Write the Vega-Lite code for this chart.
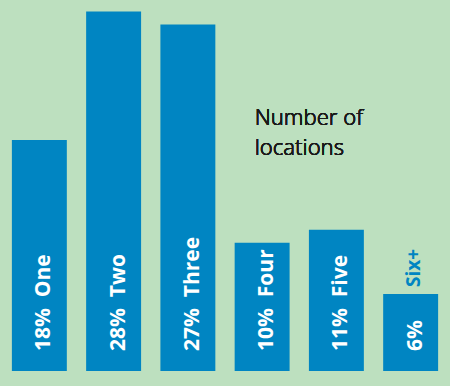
{
  "$schema": "https://vega.github.io/schema/vega-lite/v6.json",
  "width": 450,
  "height": 371,
  "padding": {"left": 0, "top": 0, "right": 0, "bottom": 15},
  "background": "#bde0bf",
  "config": {"view": {"stroke": null}},
  "data": {
    "values": [
      {"count": "One", "pct": 18, "inner": "18%\u00a0\u00a0One", "outer": ""},
      {"count": "Two", "pct": 28, "inner": "28%\u00a0\u00a0Two", "outer": ""},
      {"count": "Three", "pct": 27, "inner": "27%\u00a0\u00a0Three", "outer": ""},
      {"count": "Four", "pct": 10, "inner": "10%\u00a0\u00a0Four", "outer": ""},
      {"count": "Five", "pct": 11, "inner": "11%\u00a0\u00a0Five", "outer": ""},
      {"count": "Six+", "pct": 6, "inner": "6%", "outer": "Six+"}
    ]
  },
  "encoding": {
    "x": {
      "field": "count",
      "type": "nominal",
      "sort": null,
      "axis": null,
      "scale": {"paddingInner": 0.26, "paddingOuter": 0.16}
    }
  },
  "layer": [
    {
      "mark": {"type": "bar", "color": "#0085c2"},
      "encoding": {
        "y": {
          "field": "pct",
          "type": "quantitative",
          "axis": null,
          "scale": {"domain": [0, 28.9], "nice": false}
        }
      }
    },
    {
      "mark": {
        "type": "text",
        "angle": 270,
        "align": "left",
        "baseline": "alphabetic",
        "dx": 20,
        "dy": 11,
        "font": "Open Sans",
        "fontWeight": "bold",
        "fontSize": 21,
        "color": "white"
      },
      "encoding": {
        "y": {"datum": 0, "type": "quantitative"},
        "text": {"field": "inner"}
      }
    },
    {
      "mark": {
        "type": "text",
        "angle": 270,
        "align": "left",
        "baseline": "alphabetic",
        "dx": 7,
        "dy": 9,
        "font": "Open Sans",
        "fontWeight": "bold",
        "fontSize": 19,
        "color": "#0085c2"
      },
      "encoding": {
        "y": {"field": "pct", "type": "quantitative"},
        "text": {"field": "outer"}
      }
    },
    {
      "mark": {
        "type": "text",
        "text": ["Number of", "locations"],
        "align": "left",
        "baseline": "alphabetic",
        "lineHeight": 30,
        "dx": 20,
        "font": "Noto Sans",
        "fontWeight": 300,
        "fontSize": 22,
        "color": "#1a1a1a"
      },
      "encoding": {
        "x": {"datum": "Four", "bandPosition": 0},
        "y": {"datum": 19.15, "type": "quantitative"}
      }
    }
  ]
}
